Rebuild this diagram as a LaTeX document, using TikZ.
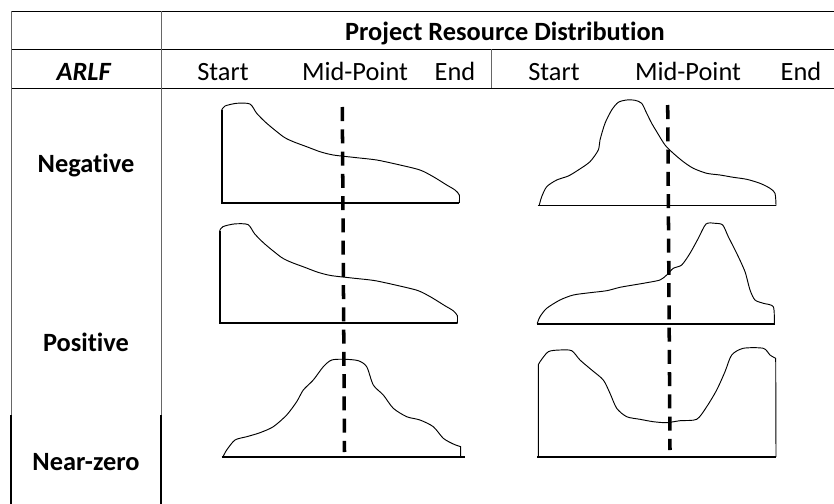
\documentclass[tikz,border=0pt]{standalone}
\usepackage{fontspec}
\setmainfont{Carlito}[Ligatures=NoCommon]
\usetikzlibrary{positioning}

\tikzset{
  grid/.style={draw=black,line width=0.8pt},
  vgrid/.style={draw=black!60,line width=0.8pt},
  axisline/.style={draw=black,line width=1.5pt},
  curve/.style={draw=black,line width=0.8pt,line join=round,line cap=round},
  midline/.style={draw=black,line width=3pt,dash pattern=on 12pt off 7pt}
}

% the decaying shape is used twice
\newcommand{\decayshape}{%
  \draw[curve] plot[smooth,tension=0.45] coordinates {(221.7,110) (225,106) (236.7,103.3) (250,104)
    (256.7,113.3) (266.7,123.3) (283.3,136.7) (293.3,141.7) (306.7,146.7) (320,151.7)
    (333.3,155) (356.7,157.7) (376.7,160) (400,165) (420,170) (433.3,176.7)
    (446.7,185) (455,190) (459.3,195) (459.3,202.7)};
  \draw[axisline] (221.7,110) -- (221.7,202.7) -- (459.3,202.7);
}

\begin{document}
\begin{tikzpicture}[x=0.03cm,y=-0.03cm]
  \useasboundingbox (0,0) rectangle (834,504);
  % table lines
  \draw[grid] (11,11) -- (834,11);
  \draw[grid] (11,49) -- (834,49);
  \draw[grid] (11,88) -- (834,88);
  \draw[vgrid] (11,11) -- (11,504);
  \draw[vgrid] (161,11) -- (161,504);
  \draw[vgrid] (491,49) -- (491,88);
  \draw[draw=black,line width=1.4pt] (11,415) -- (11,504);
  \draw[draw=black,line width=1.4pt] (161,415) -- (161,504);

  \begin{scope}[every node/.style={font=\fontsize{22.5}{26}\selectfont,inner sep=0pt,anchor=base}]
    \node (title) at (505,40) {\textbf{Project Resource Distribution}};
    \node (arlf) at (84,80) {\textbf{\textit{ARLF}}};
    \node (start1) at (223,80) {Start};
    \node (mid1) at (355,80) {Mid-Point};
    \node (end1) at (455,80) {End};
    \node (start2) at (554,80) {Start};
    \node (mid2) at (688,80) {Mid-Point};
    \node (end2) at (801,80) {End};
    \node (neg) at (86,172) {\textbf{Negative}};
    \node (pos) at (86,351) {\textbf{Positive}};
    \node (near) at (86,470) {\textbf{Near-zero}};
  \end{scope}

  % mid-point markers
  \draw[midline] (342.3,107) -- (344.5,452);
  \draw[midline] (667.7,105) -- (670,450);

  % negative
  \decayshape
  \draw[curve] plot[smooth,tension=0.45] coordinates {(539.3,205) (541.7,196.7) (546.7,186.7)
    (556.7,180) (568.3,176) (578.3,170) (590,161.7) (598.3,150) (600,140) (605,123.3)
    (611.7,110) (618.3,102.3) (626.7,100) (635,100.3) (641.7,103.3) (646.7,113.3)
    (651.7,123.3) (656.7,131.7) (665,145) (673.3,153.3) (683.3,161.7) (693.3,168.3)
    (706.7,173.3) (720,175) (733.3,177.3) (746.7,179.3) (760,183.3) (770,188.3)
    (775,193.3) (776,205)};
  \draw[curve] (538.3,205) -- (776,205);

  % positive
  \begin{scope}[shift={(-2,120.6)}]
    \decayshape
  \end{scope}
  \draw[curve] plot[smooth,tension=0.45] coordinates {(537.3,323.3) (540,316.7) (546.7,308.3)
    (560,300) (573.3,295) (590,292.7) (606.7,290.7) (620,287.3) (633.3,285) (646.7,282.7)
    (660,280) (666.7,275) (673.3,268.3) (681.7,265) (690,253.3) (698.3,238.3) (706,224)
    (715,223.3) (722.7,225) (728.3,236.7) (736.7,253.3) (745,271.7) (750,290) (755,300)
    (763.3,303.3) (773.3,306.7) (774.3,323.3)};
  \draw[axisline] (536.7,324) -- (775,324);

  % near-zero
  \draw[curve] plot[smooth,tension=0.45] coordinates {(222.7,457.3) (226.7,450) (235,440)
    (246.7,436.7) (260,432.7) (273.3,426.7) (286.7,415) (296.7,401.7) (303.3,390)
    (313.3,380) (323.3,366.7) (331.7,360) (345,359.3) (358.3,360.7) (366.7,366.7)
    (373.3,385) (383.3,395) (393.3,408.3) (406.7,416.7) (420,420) (433.3,426.7)
    (443.3,438.3) (453.3,444) (460.7,446.7)} -- (460.7,456.7);
  \draw[axisline] (221.7,456.7) -- (465,456.7);
  \draw[curve] (538.3,456.7) -- (538.3,365) plot[smooth,tension=0.45] coordinates {(538.3,365)
    (540,361.7) (548.3,351.7) (560,350) (571.7,350.7) (580,360) (591.7,370) (603.3,380)
    (610,393.3) (616.7,408.3) (626.7,416.7) (640,419.3) (653.3,421.7) (666.7,422.7)
    (680,420.7) (696.7,419.3) (706.7,406.7) (716.7,390) (725,371.7) (731.7,355)
    (743.3,348.3) (763.3,348.3) (770,355) (775.7,358.3)} -- (776,456.7);
  \draw[axisline] (537.3,456.7) -- (776,456.7);
\end{tikzpicture}
\end{document}
